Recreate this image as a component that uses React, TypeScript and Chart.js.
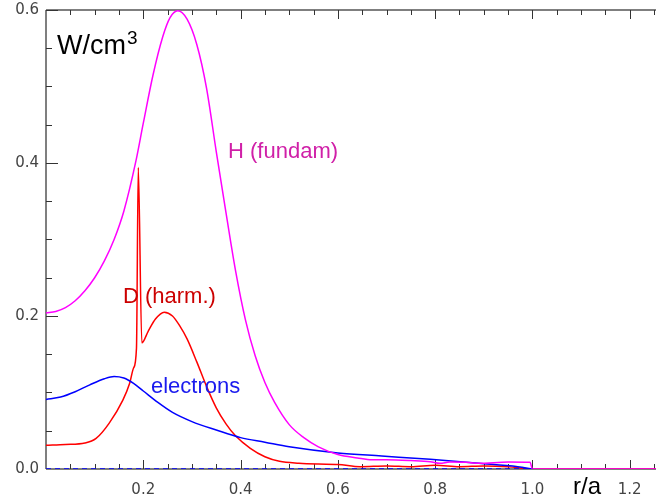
import { useEffect, useRef } from 'react';
import { Chart, registerables } from 'chart.js';

Chart.register(...registerables);

// H (fundam) – magenta
const hR = [0, 0.02, 0.04, 0.06, 0.08, 0.10, 0.12, 0.14, 0.16, 0.185, 0.20, 0.22, 0.24, 0.255, 0.271, 0.29, 0.31, 0.33, 0.35, 0.37, 0.39, 0.41, 0.43, 0.45, 0.47, 0.50, 0.53, 0.56, 0.60, 0.64, 0.67, 0.70, 0.75, 0.79, 0.81, 0.83, 0.87, 0.89, 0.95, 0.995, 1.0, 1.254];
const hV = [0.204, 0.206, 0.211, 0.220, 0.233, 0.250, 0.272, 0.300, 0.337, 0.403, 0.452, 0.515, 0.565, 0.590, 0.599, 0.588, 0.555, 0.498, 0.415, 0.335, 0.258, 0.195, 0.148, 0.113, 0.087, 0.058, 0.041, 0.029, 0.019, 0.0145, 0.012, 0.012, 0.011, 0.0095, 0.0074, 0.009, 0.0085, 0.0074, 0.009, 0.0087, 0, 0];

// D (harm.) – red
const dR = [0, 0.04, 0.08, 0.103, 0.130, 0.158, 0.172, 0.180, 0.186, 0.1897, 0.197, 0.21, 0.225, 0.243, 0.26, 0.275, 0.29, 0.31, 0.33, 0.35, 0.37, 0.39, 0.42, 0.45, 0.48, 0.52, 0.56, 0.60, 0.646, 0.7, 0.75, 0.8, 0.85, 0.9, 0.95, 1.0, 1.254];
const dV = [0.031, 0.032, 0.034, 0.040, 0.060, 0.090, 0.112, 0.132, 0.158, 0.394, 0.165, 0.180, 0.196, 0.205, 0.200, 0.187, 0.170, 0.140, 0.108, 0.080, 0.059, 0.043, 0.027, 0.016, 0.010, 0.0075, 0.0065, 0.006, 0.003, 0.004, 0.003, 0.005, 0.003, 0.004, 0.003, 0, 0];

// electrons – blue
const eR = [0, 0.03, 0.06, 0.09, 0.12, 0.14, 0.16, 0.18, 0.20, 0.23, 0.26, 0.30, 0.35, 0.40, 0.45, 0.50, 0.60, 0.69, 0.79, 0.89, 0.97, 1.0];
const eV = [0.091, 0.094, 0.101, 0.110, 0.118, 0.121, 0.119, 0.112, 0.102, 0.087, 0.074, 0.062, 0.051, 0.041, 0.035, 0.029, 0.021, 0.017, 0.0126, 0.0074, 0.003, 0];

// zero reference (dashed)
const zR = [0, 1.0];
const zV = [0, 0];

const xTicks = [0.2, 0.4, 0.6, 0.8, 1.0, 1.2];
const yTicks = [0, 0.2, 0.4, 0.6];

const pts = (r: number[], v: number[]) => r.map((x, i) => ({ x, y: v[i] }));

const axesPlugin = {
  id: 'idlAxes',
  beforeDatasetsDraw(chart: any) {
    const { ctx, chartArea: a, scales } = chart;
    const x = scales.x;
    const y = scales.y;
    ctx.save();
    ctx.strokeStyle = '#555';
    ctx.lineWidth = 1.5;
    ctx.beginPath();
    ctx.moveTo(a.left, a.top);
    ctx.lineTo(a.right, a.top);
    ctx.moveTo(a.left, a.top);
    ctx.lineTo(a.left, a.bottom);
    ctx.moveTo(a.left, a.bottom);
    ctx.lineTo(a.right, a.bottom);
    ctx.stroke();
    ctx.strokeStyle = '#333';
    ctx.lineWidth = 1;
    ctx.beginPath();
    for (let i = 1; i * 0.05 <= x.max + 1e-9; i++) {
      const px = Math.round(x.getPixelForValue(i * 0.05)) + 0.5;
      const L = i % 4 === 0 ? 9 : 5;
      ctx.moveTo(px, a.bottom);
      ctx.lineTo(px, a.bottom - L);
      ctx.moveTo(px, a.top);
      ctx.lineTo(px, a.top + L);
    }
    for (let i = 1; i * 0.05 <= y.max + 1e-9; i++) {
      const py = Math.round(y.getPixelForValue(i * 0.05)) + 0.5;
      const L = i % 4 === 0 ? 12 : 6;
      ctx.moveTo(a.left, py);
      ctx.lineTo(a.left + L, py);
    }
    ctx.stroke();
    ctx.restore();
  },
};

const textPlugin = {
  id: 'idlText',
  afterDatasetsDraw(chart: any) {
    const { ctx } = chart;
    ctx.save();
    ctx.textAlign = 'left';
    ctx.textBaseline = 'alphabetic';
    ctx.fillStyle = '#000';
    ctx.font = '27px "Liberation Sans", Arial, sans-serif';
    ctx.fillText('W/cm', 57, 54);
    const w = ctx.measureText('W/cm').width;
    ctx.font = '19px "Liberation Sans", Arial, sans-serif';
    ctx.fillText('3', 57 + w + 1, 44);

    ctx.font = '22px "Liberation Sans", Arial, sans-serif';
    ctx.fillStyle = '#d020a8';
    ctx.fillText('H (fundam)', 228, 158);
    ctx.fillStyle = '#cc0000';
    ctx.fillText('D (harm.)', 123, 303);
    ctx.fillStyle = '#1a1aee';
    ctx.fillText('electrons', 151, 393);

    ctx.fillStyle = '#000';
    ctx.font = '24px "Liberation Sans", Arial, sans-serif';
    ctx.textAlign = 'center';
    ctx.fillText('r/a', 587, 494);
    ctx.restore();
  },
};

export default function App() {
  const ref = useRef<HTMLCanvasElement>(null);
  useEffect(() => {
    if (!ref.current) return;
    const tickFont = { family: '"DejaVu Sans", sans-serif', size: 15 };
    const chart = new Chart(ref.current, {
      type: 'line',
      data: {
        datasets: [
          {
            data: pts(zR, zV),
            borderColor: '#0000ff',
            borderWidth: 1.5,
            borderDash: [5, 4],
            pointRadius: 0,
            order: 0,
          },
          {
            data: pts(hR, hV),
            borderColor: '#ff00ff',
            borderWidth: 1.5,
            pointRadius: 0,
            cubicInterpolationMode: 'monotone',
            order: 1,
          },
          {
            data: pts(eR, eV),
            borderColor: '#0000ff',
            borderWidth: 1.5,
            pointRadius: 0,
            cubicInterpolationMode: 'monotone',
            order: 2,
          },
          {
            data: pts(dR, dV),
            borderColor: '#ff0000',
            borderWidth: 1.5,
            pointRadius: 0,
            cubicInterpolationMode: 'monotone',
            order: 3,
          },
        ],
      },
      options: {
        animation: false,
        responsive: false,
        layout: { padding: { top: 10, right: 0, left: 0, bottom: 0 } },
        plugins: { legend: { display: false }, tooltip: { enabled: false } },
        scales: {
          x: {
            type: 'linear',
            min: 0,
            max: 1.254,
            grid: { display: false, drawTicks: false },
            border: { display: false },
            ticks: {
              color: '#444',
              font: tickFont,
              padding: 12,
              maxRotation: 0,
              autoSkip: false,
              callback: (v: any) => Number(v).toFixed(1),
            },
            afterBuildTicks: (s: any) => {
              s.ticks = xTicks.map((value) => ({ value }));
            },
            afterFit: (s: any) => {
              s.height = 30;
              s.paddingLeft = 0;
              s.paddingRight = 0;
            },
          },
          y: {
            type: 'linear',
            min: 0,
            max: 0.6,
            grid: { display: false, drawTicks: false },
            border: { display: false },
            ticks: {
              color: '#444',
              font: tickFont,
              padding: 7,
              autoSkip: false,
              callback: (v: any) => Number(v).toFixed(1),
            },
            afterBuildTicks: (s: any) => {
              s.ticks = yTicks.map((value) => ({ value }));
            },
            afterFit: (s: any) => {
              s.width = 46;
              s.paddingTop = 0;
              s.paddingBottom = 0;
            },
          },
        },
      },
      plugins: [axesPlugin, textPlugin],
    } as any);
    return () => chart.destroy();
  }, []);
  return (
    <div style={{ position: 'absolute', left: 0, top: 0, width: 656, height: 499, background: '#fff' }}>
      <canvas ref={ref} width={656} height={499} style={{ display: 'block' }} />
    </div>
  );
}
